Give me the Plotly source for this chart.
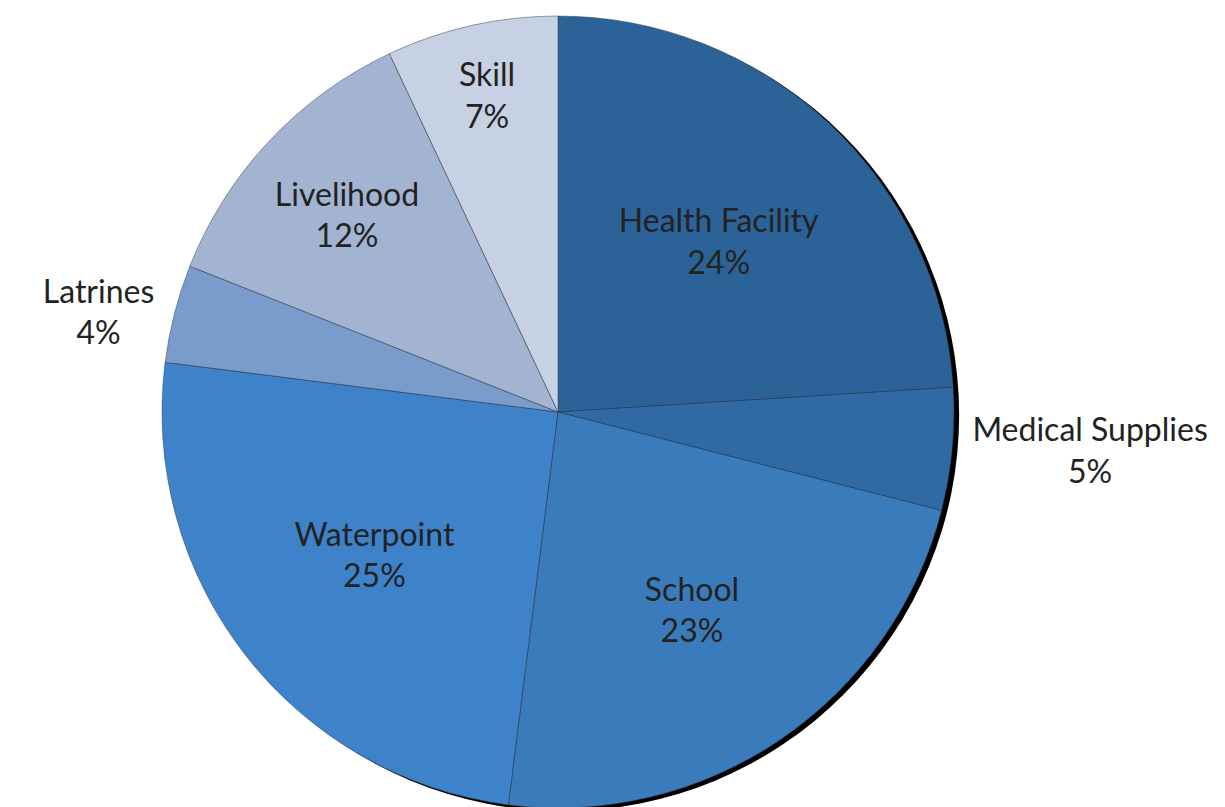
import plotly.graph_objects as go

labels = ["Health Facility", "Medical Supplies", "School", "Waterpoint", "Latrines", "Livelihood", "Skill"]
values = [24, 5, 23, 25, 4, 12, 7]
colors = ["#2b6298", "#2f6aa4", "#3a7bbc", "#3e82c9", "#7a9ccc", "#a3b4d2", "#c6d1e4"]
text_positions = ["inside", "outside", "inside", "inside", "outside", "inside", "inside"]

W, H = 1225, 807
cx, cy, r = 550, 404, 396
sdx, sdy = 5, 3

def dom(cx, cy):
    return dict(x=[(cx - r) / W, (cx + r) / W], y=[(H - cy - r) / H, (H - cy + r) / H])

FONT = "Lato, Open Sans, sans-serif"
fig = go.Figure()
# shadow
fig.add_trace(go.Pie(
    values=[1], labels=["shadow"], marker=dict(colors=["#000000"]),
    textinfo="none", hoverinfo="skip", showlegend=False, sort=False,
    domain=dom(cx + sdx, cy + sdy),
))
fig.add_trace(go.Pie(
    labels=labels, values=values, sort=False, direction="clockwise", rotation=0,
    marker=dict(colors=colors, line=dict(color="rgba(50,60,80,0.6)", width=0.8)),
    textinfo="label+percent", textposition=text_positions,
    insidetextorientation="horizontal",
    textfont=dict(family=FONT, size=32, color="#222222"),
    insidetextfont=dict(family=FONT, size=32, color="#222222"),
    outsidetextfont=dict(family=FONT, size=32, color="#222222"),
    showlegend=False,
    domain=dom(cx, cy),
))
fig.update_layout(
    width=W, height=H, margin=dict(l=0, r=0, t=0, b=0),
    paper_bgcolor="white", plot_bgcolor="white",
)
fig.write_html("out.html")
